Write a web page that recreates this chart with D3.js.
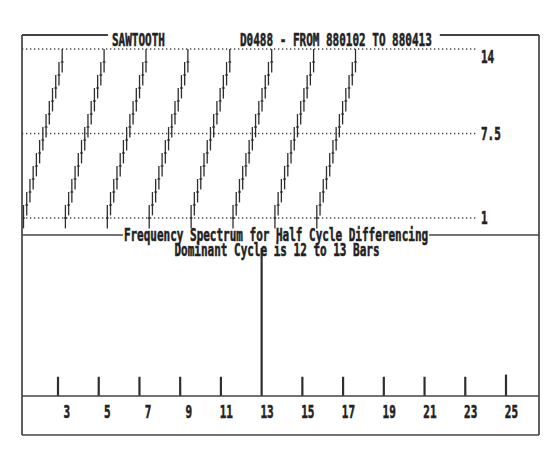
<!DOCTYPE html>
<html><head><meta charset="utf-8">
<script src="https://cdn.jsdelivr.net/npm/d3@7"></script>
<style>
html,body{margin:0;padding:0;background:#fff;}
svg{display:block;}
text{font-family:"DejaVu Sans Mono",monospace;font-weight:bold;fill:#222;stroke:#222;stroke-width:0.35px;}
</style></head>
<body>
<svg id="c" width="557" height="465"></svg>
<script>
// ---------- data ----------
const titleLeft = "SAWTOOTH";
const titleRight = "D0488 - FROM 880102 TO 880413";
const spectrumTitle = "Frequency Spectrum for Half Cycle Differencing";
const spectrumSubtitle = "Dominant Cycle is 12 to 13 Bars";

// price bars (8 sawtooth cycles of 13 bars)
const barCloses = [
 1,2,3,4,5,6,7,8,9,10,11,12,13,
 1,2,3,4,5,6,7,8,9,10,11,12,13,
 1,2,3,4,5,6,7,8,9,10,11,12,13,
 1,2,3,4,5,6,7,8,9,10,11,12,13,
 1,2,3,4,5,6,7,8,9,10,11,12,13,
 1,2,3,4,5,6,7,8,9,10,11,12,13,
 1,2,3,4,5,6,7,8,9,10,11,12,13,
 1,2,3,4,5,6,7,8,9,10,11,12,13];
const barHighs = [
 2,3,4,5,6,7,8,9,10,11,12,13,14,
 2,3,4,5,6,7,8,9,10,11,12,13,14,
 2,3,4,5,6,7,8,9,10,11,12,13,14,
 2,3,4,5,6,7,8,9,10,11,12,13,14,
 2,3,4,5,6,7,8,9,10,11,12,13,14,
 2,3,4,5,6,7,8,9,10,11,12,13,14,
 2,3,4,5,6,7,8,9,10,11,12,13,14,
 2,3,4,5,6,7,8,9,10,11,12,13,14];
const barLows = [
 0.2,1.2,2.2,3.2,4.2,5.2,6.2,7.2,8.2,9.2,10.2,11.2,12.2,
 0.2,1.2,2.2,3.2,4.2,5.2,6.2,7.2,8.2,9.2,10.2,11.2,12.2,
 0.2,1.2,2.2,3.2,4.2,5.2,6.2,7.2,8.2,9.2,10.2,11.2,12.2,
 0.2,1.2,2.2,3.2,4.2,5.2,6.2,7.2,8.2,9.2,10.2,11.2,12.2,
 0.2,1.2,2.2,3.2,4.2,5.2,6.2,7.2,8.2,9.2,10.2,11.2,12.2,
 0.2,1.2,2.2,3.2,4.2,5.2,6.2,7.2,8.2,9.2,10.2,11.2,12.2,
 0.2,1.2,2.2,3.2,4.2,5.2,6.2,7.2,8.2,9.2,10.2,11.2,12.2,
 0.2,1.2,2.2,3.2,4.2,5.2,6.2,7.2,8.2,9.2,10.2,11.2,12.2];
const gridValues = [1, 7.5, 14];
const gridLabels = ["1", "7.5", "14"];

// frequency spectrum
const periods = [3,5,7,9,11,13,15,17,19,21,23,25];
const power   = [0.13,0.13,0.13,0.13,0.13,1.0,0.13,0.13,0.13,0.13,0.13,0.145];
const periodLabels = ["3","5","7","9","11","13","15","17","19","21","23","25"];

// ---------- drawing ----------
const svg = d3.select("#c");
const ink = "#2e2e2e";
const L = 22, R = 539, T = 35, MID = 235, BASE = 396, B = 435;

const x = d3.scaleLinear().domain([0, barCloses.length - 1]).range([23.5, 355.5]);
const y = d3.scaleLinear().domain([1, 14]).range([218, 49]);

// grid (dotted)
svg.append("g").selectAll("line").data(gridValues).join("line")
  .attr("x1", L).attr("x2", 476)
  .attr("y1", d => y(d)).attr("y2", d => y(d))
  .attr("stroke", "#444").attr("stroke-width", 1.3)
  .attr("stroke-dasharray", "1.3,2.7");

// grid labels
svg.append("g").selectAll("text").data(gridValues).join("text")
  .attr("transform", d => `translate(481,${Math.max(y(d) + 6, 63)}) scale(1,1.6)`)
  .attr("font-size", 11)
  .text((d, i) => gridLabels[i]);

// price bars
const bars = svg.append("g").attr("stroke", ink).attr("stroke-width", 1.3);
bars.selectAll("line.hl").data(barCloses).join("line").attr("class", "hl")
  .attr("x1", (d, i) => x(i)).attr("x2", (d, i) => x(i))
  .attr("y1", (d, i) => y(barHighs[i])).attr("y2", (d, i) => y(barLows[i]));
bars.selectAll("line.cl").data(barCloses).join("line").attr("class", "cl")
  .attr("x1", (d, i) => x(i) - 1.4).attr("x2", (d, i) => x(i) + 1.4)
  .attr("y1", d => y(d)).attr("y2", d => y(d));

// spectrum
const px = d3.scaleLinear().domain([3, 25]).range([58, 506]);
const py = d3.scaleLinear().domain([0, 1]).range([BASE, 248]);
svg.append("g").selectAll("line").data(periods).join("line")
  .attr("x1", d => px(d)).attr("x2", d => px(d))
  .attr("y1", BASE).attr("y2", (d, i) => py(power[i]))
  .attr("stroke", ink).attr("stroke-width", 2.2);

svg.append("g").selectAll("text").data(periods).join("text")
  .attr("transform", d => `translate(${px(d) + 12},418) scale(1,1.6)`)
  .attr("text-anchor", "end")
  .attr("font-size", 11)
  .text((d, i) => periodLabels[i]);

// frame
const frame = svg.append("g").attr("stroke", "#444").attr("stroke-width", 1.7).attr("fill", "none");
frame.append("line").attr("x1", L).attr("x2", L).attr("y1", T).attr("y2", B);
frame.append("line").attr("x1", R).attr("x2", R).attr("y1", T).attr("y2", B);
frame.append("line").attr("x1", L).attr("x2", R).attr("y1", BASE).attr("y2", BASE);
frame.append("line").attr("x1", L).attr("x2", R).attr("y1", B).attr("y2", B);

// titles
svg.append("text").attr("transform", "translate(112,46) scale(1,1.6)")
  .attr("font-size", 11).text(titleLeft);
const tr = svg.append("text").attr("transform", "translate(240,46) scale(1,1.6)")
  .attr("font-size", 11).text(titleRight);
const trEnd = 240 + tr.node().getComputedTextLength();
frame.append("line").attr("x1", L).attr("x2", 108).attr("y1", T).attr("y2", T).attr("stroke-width", 2.2);
frame.append("line").attr("x1", trEnd + 8).attr("x2", R).attr("y1", T).attr("y2", T).attr("stroke-width", 2.2);

const st = svg.append("text").attr("transform", "translate(276,241) scale(1,1.6)")
  .attr("text-anchor", "middle").attr("font-size", 11).text(spectrumTitle);
const stW = st.node().getComputedTextLength();
frame.append("line").attr("x1", L).attr("x2", 276 - stW / 2 - 1).attr("y1", MID).attr("y2", MID);
frame.append("line").attr("x1", 276 + stW / 2 + 1).attr("x2", R).attr("y1", MID).attr("y2", MID);

svg.append("text").attr("transform", "translate(277,256) scale(1,1.6)")
  .attr("text-anchor", "middle").attr("font-size", 11).text(spectrumSubtitle);
</script>
</body></html>
